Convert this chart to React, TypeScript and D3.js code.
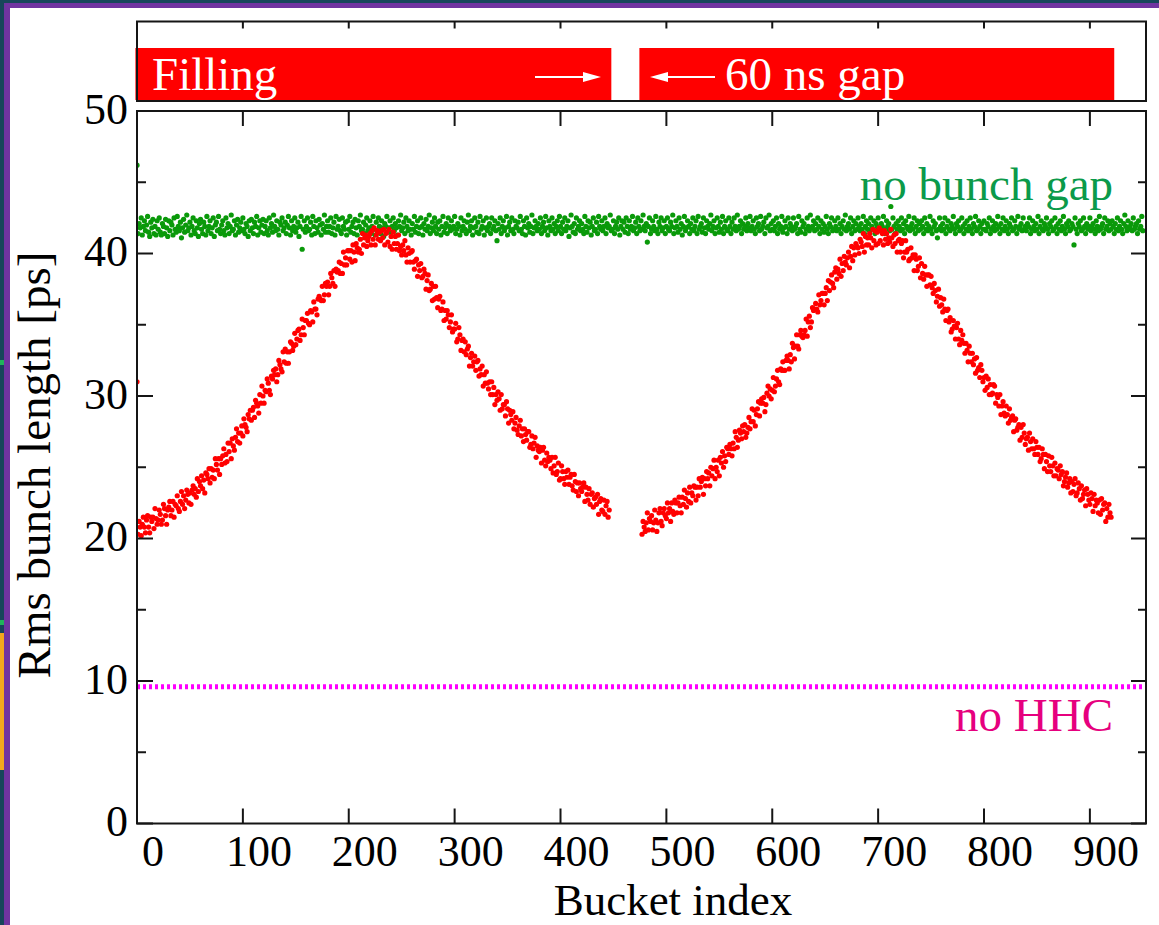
import React from 'react';
import * as d3 from 'd3';

// ---------------- data ----------------
const xTickValues = [0, 100, 200, 300, 400, 500, 600, 700, 800, 900];
const yMajorValues = [0, 10, 20, 30, 40, 50];
const yMinorValues = [5, 15, 25, 35, 45];
const noHhcLevel = 9.6;
const fillingSegments: [number, number][] = [[-1.5, 448], [474.5, 923]];

const greenStartBucket = 0;
const greenNoGap = [
  46.2, 41.4, 42.1, 41.8, 42.5, 41.3, 41.9, 42.3, 41.6, 42.0, 42.6, 41.5, 41.2, 42.2, 41.8, 42.4, 41.4, 41.9, 41.3, 42.3,
  41.7, 42.5, 41.5, 41.3, 42.1, 41.9, 41.4, 42.4, 41.8, 41.2, 42.3, 41.6, 42.2, 42.0, 41.3, 42.5, 41.7, 41.5, 42.6, 41.9,
  41.6, 42.2, 41.1, 41.8, 42.4, 41.5, 42.0, 42.7, 41.6, 41.8, 42.2, 41.3, 41.9, 42.5, 41.6, 41.4, 42.3, 41.8, 41.2, 42.1,
  42.4, 41.7, 41.4, 42.2, 41.9, 41.3, 42.6, 41.6, 41.9, 42.3, 41.4, 41.8, 42.5, 41.2, 42.0, 42.2, 41.6, 42.6, 41.7, 41.4,
  42.0, 42.3, 41.6, 41.3, 42.5, 41.8, 42.1, 41.4, 41.9, 42.7, 41.6, 41.7, 42.3, 41.3, 42.0, 42.4, 41.5, 41.8, 42.2, 41.6,
  42.5, 41.7, 41.4, 42.1, 41.9, 41.2, 42.3, 41.6, 42.4, 41.8, 41.4, 42.2, 41.9, 42.6, 41.3, 41.8, 42.3, 41.5, 42.0, 42.4,
  41.4, 41.9, 42.3, 41.6, 41.3, 42.5, 41.8, 42.1, 41.5, 42.7, 41.9, 41.6, 42.3, 41.7, 41.3, 42.2, 42.0, 42.5, 41.6, 41.8,
  42.2, 41.4, 42.0, 42.6, 41.8, 41.3, 42.3, 41.6, 41.9, 42.5, 41.5, 41.8, 42.2, 41.2, 41.9, 42.6, 40.3, 41.7, 42.3, 41.5,
  41.9, 42.5, 41.6, 41.7, 42.2, 41.3, 42.6, 41.9, 41.4, 42.3, 41.8, 41.5, 42.4, 42.0, 41.3, 42.1, 41.7, 42.7, 41.5, 41.9,
  42.3, 41.5, 41.9, 42.5, 41.4, 41.8, 42.2, 41.3, 42.6, 41.7, 41.9, 42.4, 41.6, 41.4, 42.5, 41.9, 41.7, 42.2, 41.3, 42.3,
  41.7, 42.6, 41.5, 41.9, 42.2, 41.4, 42.4, 41.8, 41.3, 42.3, 41.9, 42.7, 41.6, 41.7, 42.2, 41.4, 42.0, 42.5, 41.6, 41.8,
  42.3, 41.4, 41.9, 42.6, 41.7, 41.3, 42.2, 41.6, 42.5, 41.9, 41.4, 42.3, 41.8, 41.2, 42.1, 41.9, 42.6, 41.5, 41.8, 42.3,
  41.5, 41.9, 42.5, 41.6, 42.1, 41.8, 41.3, 42.3, 41.9, 42.7, 41.6, 41.8, 42.2, 41.4, 42.5, 41.9, 41.6, 42.3, 41.7, 41.3,
  42.1, 41.7, 42.6, 41.5, 41.9, 42.3, 41.4, 41.8, 42.5, 41.9, 41.3, 42.1, 41.7, 42.4, 41.6, 41.9, 42.7, 41.4, 41.8, 42.2,
  41.6, 42.5, 41.9, 41.4, 42.2, 41.7, 42.3, 41.3, 41.9, 42.6, 41.5, 41.8, 42.1, 41.4, 42.5, 41.9, 41.6, 42.3, 41.7, 41.9,
  42.6, 41.4, 41.7, 42.1, 41.9, 41.3, 42.5, 41.6, 41.9, 42.3, 41.7, 41.4, 42.2, 42.7, 41.6, 41.9, 42.3, 41.3, 41.8, 42.5,
  41.9, 41.5, 42.2, 41.4, 42.6, 41.7, 41.9, 42.3, 41.3, 41.8, 42.5, 41.6, 41.9, 42.1, 41.4, 42.5, 41.7, 41.9, 42.3, 41.6,
  40.9, 42.1, 41.7, 42.5, 41.4, 41.9, 42.3, 41.6, 41.8, 42.6, 41.3, 41.9, 42.2, 41.6, 42.5, 41.7, 41.4, 42.3, 41.9, 41.8,
  42.2, 41.6, 42.6, 41.7, 41.4, 42.3, 41.9, 41.3, 42.5, 41.8, 42.1, 41.5, 41.9, 42.7, 41.4, 41.8, 42.3, 41.9, 41.6, 42.1,
  41.7, 42.5, 41.4, 41.9, 42.2, 41.6, 42.6, 41.8, 41.3, 42.3, 41.9, 41.6, 42.5, 41.7, 42.1, 41.4, 41.9, 42.3, 41.6, 42.6,
  41.9, 41.4, 42.2, 41.7, 42.5, 41.6, 41.9, 42.3, 41.2, 41.8, 42.7, 41.9, 41.5, 42.1, 41.4, 42.5, 41.7, 41.9, 42.3, 41.6,
  42.1, 41.7, 41.4, 42.6, 41.9, 41.5, 42.3, 41.8, 42.2, 41.3, 41.9, 42.5, 41.6, 41.7, 42.2, 41.4, 42.6, 41.9, 41.7, 42.3,
  41.6, 41.9, 42.5, 41.4, 42.1, 41.8, 41.9, 42.7, 41.6, 41.7, 42.3, 41.4, 41.9, 42.2, 41.7, 42.5, 41.3, 41.9, 42.3, 41.7,
  42.2, 41.5, 42.5, 41.9, 41.4, 42.3, 41.7, 41.9, 42.6, 41.6, 41.8, 42.2, 41.4, 42.5, 41.9, 41.6, 42.3, 41.7, 42.7, 41.9,
  41.6, 42.1, 40.8, 41.9, 42.5, 41.4, 41.7, 42.3, 41.9, 41.6, 42.6, 41.7, 41.4, 42.2, 41.9, 42.5, 41.6, 41.8, 42.3, 41.4,
  41.9, 42.5, 41.7, 41.6, 42.2, 41.9, 42.7, 41.4, 41.8, 42.3, 41.9, 41.5, 42.5, 41.7, 42.1, 41.3, 41.9, 42.6, 41.6, 41.8,
  42.3, 41.9, 41.4, 42.1, 41.7, 42.5, 41.6, 41.9, 42.3, 41.4, 42.6, 41.7, 41.9, 42.1, 41.5, 42.5, 41.8, 41.4, 42.3, 41.9,
  41.7, 42.1, 42.7, 41.6, 41.9, 42.3, 41.4, 41.8, 42.5, 41.9, 41.5, 42.2, 41.7, 42.6, 41.4, 41.9, 42.3, 41.7, 41.6, 42.5,
  41.9, 41.4, 42.2, 41.7, 42.5, 41.9, 41.6, 42.7, 41.7, 41.9, 42.3, 41.4, 42.1, 41.7, 41.9, 42.5, 41.6, 42.1, 41.8, 42.6,
  41.6, 41.9, 42.3, 41.7, 41.4, 42.5, 41.9, 42.1, 41.6, 42.6, 41.7, 41.9, 42.2, 41.4, 42.5, 41.8, 41.9, 42.7, 41.6, 42.1,
  41.7, 42.3, 41.6, 41.9, 42.5, 41.4, 42.1, 41.7, 41.9, 42.6, 41.5, 41.8, 42.3, 41.9, 41.4, 42.5, 41.7, 42.1, 41.9, 41.6,
  42.5, 41.7, 41.9, 42.1, 41.4, 42.6, 41.7, 41.5, 42.3, 41.9, 42.1, 41.4, 41.7, 42.5, 41.9, 41.6, 42.7, 41.8, 41.9, 42.3,
  41.6, 42.1, 41.7, 42.5, 41.9, 41.4, 42.3, 41.7, 42.1, 41.5, 41.9, 42.6, 41.7, 41.4, 42.1, 41.9, 42.5, 41.6, 41.7, 42.3,
  41.9, 41.6, 42.5, 41.7, 42.1, 41.4, 41.9, 42.3, 41.7, 42.7, 41.6, 41.9, 42.1, 41.7, 42.5, 41.4, 41.9, 42.3, 41.6, 42.1,
  41.7, 42.5, 41.9, 41.6, 42.1, 41.7, 42.6, 41.4, 41.9, 42.3, 41.7, 42.1, 41.6, 42.5, 41.9, 41.7, 42.3, 41.4, 42.1, 41.9,
  42.5, 41.7, 41.6, 42.1, 41.9, 42.6, 41.4, 41.7, 42.3, 41.9, 42.1, 41.6, 43.3, 41.7, 42.5, 41.9, 41.4, 42.1, 41.7, 42.3,
  41.9, 41.6, 42.5, 41.7, 42.1, 41.4, 42.3, 41.9, 41.7, 42.6, 41.6, 41.9, 42.1, 41.7, 42.5, 41.4, 41.9, 42.3, 41.6, 42.1,
  41.7, 42.3, 41.9, 41.4, 42.5, 41.7, 42.1, 41.6, 41.9, 42.6, 41.7, 41.4, 42.3, 41.9, 42.1, 41.6, 41.1, 41.7, 42.5, 41.9,
  41.6, 42.1, 41.7, 42.5, 41.4, 41.9, 42.3, 41.7, 41.6, 42.1, 41.9, 42.6, 41.7, 41.4, 42.1, 41.9, 42.3, 41.6, 41.7, 42.5,
  41.9, 41.4, 42.1, 41.7, 42.3, 41.6, 41.9, 42.5, 41.7, 41.4, 42.1, 41.9, 42.6, 41.6, 41.7, 42.3, 41.9, 41.4, 42.1, 41.7,
  42.3, 41.7, 41.6, 42.1, 41.9, 42.5, 41.4, 41.7, 42.3, 41.9, 41.6, 42.1, 41.7, 42.6, 41.9, 41.4, 42.1, 41.7, 42.5, 41.6,
  41.9, 42.3, 41.7, 41.4, 42.1, 41.9, 42.5, 41.6, 41.7, 42.3, 41.9, 41.4, 42.6, 41.7, 41.9, 42.1, 41.6, 42.5, 41.7, 41.9,
  41.6, 42.1, 41.9, 42.5, 41.4, 41.7, 42.3, 41.9, 41.6, 42.1, 41.7, 42.6, 41.4, 41.9, 42.3, 41.7, 41.6, 42.1, 41.9, 42.5,
  41.7, 41.4, 42.1, 41.9, 42.3, 41.6, 41.7, 42.5, 41.9, 41.4, 42.1, 41.7, 42.3, 41.6, 41.9, 42.6, 41.7, 41.4, 42.1, 41.9,
  42.3, 41.6, 41.7, 42.1, 41.9, 40.6, 42.5, 41.7, 41.4, 42.1, 41.9, 42.3, 41.6, 41.7, 42.5, 41.9, 41.4, 42.1, 41.7, 41.9,
  42.5, 41.6, 41.9, 42.1, 41.7, 41.4, 42.3, 41.9, 41.6, 42.6, 41.7, 41.9, 42.1, 41.4, 42.5, 41.7, 41.9, 42.3, 41.6, 42.1,
  41.7, 42.3, 41.9, 41.4, 42.1, 41.7, 42.5, 41.6, 41.9, 42.3, 41.7, 41.4, 42.1, 42.7, 41.9, 41.6, 42.3, 41.7, 41.9, 42.1,
  41.6, 42.5, 41.7, 41.9, 42.1, 41.4, 42.3, 41.7, 41.9, 42.6, 41.6,
];

const redStart1 = 0;
const redTrain1 = [
  31.0, 20.3, 21.2, 20.8, 20.2, 21.0, 21.5, 20.8, 20.4, 21.3,
  21.6, 20.8, 20.4, 21.5, 21.2, 21.5, 20.7, 22.1, 21.4, 21.0,
  21.3, 22.0, 21.7, 21.0, 21.3, 22.4, 22.1, 21.6, 21.0, 22.0,
  22.2, 22.6, 21.6, 22.0, 22.6, 21.5, 22.4, 22.3, 23.0, 22.1,
  21.9, 22.6, 23.3, 22.4, 23.0, 22.1, 22.7, 23.4, 23.1, 22.5,
  23.2, 22.4, 23.4, 23.7, 23.1, 23.5, 22.9, 24.2, 23.3, 24.0,
  23.7, 24.4, 23.5, 24.1, 23.2, 24.6, 24.5, 24.2, 24.9, 23.9,
  24.9, 24.3, 24.8, 24.2, 25.6, 25.2, 24.8, 25.6, 24.5, 25.6,
  25.2, 25.8, 26.3, 25.3, 25.9, 25.4, 26.7, 26.1, 26.7, 25.6,
  27.0, 26.5, 26.2, 27.1, 27.7, 26.8, 27.4, 26.7, 27.4, 27.9,
  27.2, 28.4, 28.0, 27.8, 27.5, 28.7, 28.4, 29.0, 28.3, 29.0,
  29.2, 28.5, 29.7, 29.5, 29.3, 28.8, 30.1, 29.5, 30.7, 30.0,
  29.5, 30.4, 30.3, 31.2, 30.9, 30.4, 30.1, 31.4, 31.2, 31.8,
  31.5, 31.9, 31.0, 31.5, 32.5, 32.2, 31.9, 31.7, 33.1, 32.4,
  33.3, 32.3, 33.1, 32.3, 33.1, 33.8, 33.7, 33.2, 33.5, 34.4,
  33.6, 34.0, 34.6, 34.7, 33.9, 34.3, 35.4, 34.8, 34.3, 35.3,
  35.3, 35.8, 35.1, 35.0, 36.0, 35.9, 35.2, 36.6, 36.1, 36.1,
  35.7, 36.8, 37.0, 36.8, 36.7, 37.7, 36.7, 37.1, 37.9, 37.7,
  38.0, 37.1, 37.7, 38.6, 38.3, 37.9, 38.8, 37.7, 38.9, 38.7,
  38.8, 39.4, 38.6, 39.3, 38.6, 40.1, 39.2, 39.7, 39.2, 40.2,
  40.2, 39.6, 40.2, 39.4, 40.6, 40.1, 39.5, 40.7, 40.4, 40.1,
  40.3, 41.0, 40.0, 41.4, 40.6, 41.1, 41.3, 40.5, 40.9, 41.2,
  41.4, 40.6, 41.6, 41.0, 41.8, 40.6, 41.3, 41.6, 41.0, 41.5,
  40.9, 41.6, 41.1, 41.7, 40.6, 41.4, 41.5, 40.8, 41.7, 40.5,
  41.2, 40.3, 41.5, 40.7, 41.2, 40.3, 40.7, 41.3, 40.2, 40.5,
  39.9, 40.6, 40.2, 40.9, 39.9, 39.4, 40.4, 40.0, 39.4, 40.1,
  40.2, 39.4, 38.9, 39.5, 39.6, 38.4, 39.2, 38.8, 39.3, 38.3,
  38.4, 38.9, 38.6, 37.5, 38.1, 38.5, 37.4, 37.5, 37.9, 36.7,
  37.7, 36.8, 37.7, 36.9, 36.2, 36.8, 37.0, 36.0, 36.1, 36.6,
  35.3, 36.0, 35.4, 36.0, 35.7, 34.8, 35.2, 35.7, 34.5, 34.7,
  34.7, 35.1, 33.8, 34.0, 34.8, 34.3, 33.2, 33.9, 34.0, 33.1,
  33.8, 32.9, 33.3, 33.5, 32.1, 32.7, 33.0, 32.1, 32.4, 32.8,
  31.8, 32.4, 32.5, 31.4, 31.9, 31.5, 32.1, 30.7, 31.5, 30.9,
  31.7, 30.9, 30.5, 31.0, 30.1, 31.0, 30.1, 30.6, 29.4, 30.1,
  29.7, 30.3, 29.8, 29.0, 30.1, 29.1, 29.4, 29.4, 28.6, 29.6,
  29.1, 28.1, 29.0, 28.7, 28.3, 28.9, 27.7, 28.1, 28.5, 27.6,
  27.3, 27.9, 28.3, 27.2, 27.7, 26.8, 27.7, 27.3, 26.9, 27.5,
  27.5, 26.4, 26.6, 27.2, 26.3, 26.7, 27.1, 25.7, 26.5, 26.2,
  26.1, 26.4, 25.3, 26.2, 26.4, 25.5, 25.1, 26.0, 25.4, 25.7,
  25.5, 24.9, 25.7, 24.6, 25.1, 25.7, 24.5, 24.7, 25.3, 24.1,
  24.2, 25.1, 24.7, 24.2, 23.8, 24.7, 24.3, 24.8, 23.8, 24.3,
  24.5, 23.7, 23.4, 24.5, 24.0, 23.3, 23.9, 23.0, 23.9, 23.5,
  23.3, 23.6, 23.9, 22.6, 23.6, 23.1, 22.7, 23.5, 22.4, 23.1,
  23.2, 22.2, 22.8, 22.9, 22.4, 23.1, 21.7, 22.6, 22.8, 22.0,
  21.9, 22.7, 21.7, 22.3, 22.6, 21.5, 22.0,
];

const redStart2 = 477;
const redTrain2 = [
  20.3, 21.2, 20.8,
  20.5, 21.1, 21.8, 20.6, 21.4, 21.2, 21.6, 20.6, 21.1, 22.0,
  21.3, 20.5, 21.1, 21.8, 22.1, 21.2, 20.9, 21.8, 22.1, 21.6,
  21.4, 22.5, 21.8, 22.1, 21.2, 22.5, 21.9, 21.7, 22.7, 22.5,
  21.8, 22.5, 22.9, 22.3, 21.8, 22.9, 22.4, 23.4, 22.8, 22.2,
  23.2, 22.6, 23.6, 22.5, 23.2, 23.0, 23.7, 23.6, 22.7, 23.6,
  23.0, 24.2, 23.6, 24.0, 24.3, 23.1, 24.2, 23.7, 24.7, 24.2,
  24.6, 23.7, 25.0, 24.4, 24.9, 25.5, 24.2, 25.0, 24.7, 25.5,
  24.4, 25.7, 25.3, 26.1, 25.0, 25.8, 25.4, 26.4, 26.3, 25.9,
  26.6, 26.3, 25.8, 26.7, 26.3, 27.5, 27.1, 26.4, 26.9, 27.6,
  27.4, 27.0, 27.9, 27.5, 28.0, 27.1, 27.4, 27.8, 28.5, 27.7,
  28.2, 29.1, 28.2, 29.0, 27.9, 28.7, 29.1, 29.6, 28.6, 29.5,
  29.8, 29.5, 29.9, 28.9, 29.4, 30.2, 30.7, 30.0, 30.5, 29.8,
  30.4, 31.3, 30.3, 30.7, 31.2, 31.8, 31.0, 30.8, 31.9, 31.8,
  32.4, 31.8, 31.8, 32.5, 32.8, 32.5, 31.9, 32.9, 32.4, 33.7,
  33.4, 32.6, 33.5, 34.3, 33.5, 33.3, 34.3, 34.6, 34.2, 34.1,
  34.3, 34.6, 35.4, 34.2, 35.2, 35.6, 34.8, 35.2, 36.2, 36.0,
  36.1, 36.5, 36.1, 35.9, 37.1, 36.4, 36.7, 37.2, 37.2, 36.4,
  37.2, 37.6, 36.7, 38.1, 37.4, 38.0, 38.5, 37.9, 37.6, 38.7,
  39.0, 38.2, 38.9, 38.6, 39.6, 38.4, 39.3, 38.8, 39.8, 39.4,
  39.2, 39.7, 40.1, 39.0, 39.8, 40.5, 39.5, 40.4, 39.9, 40.7,
  40.5, 40.4, 40.0, 41.0, 40.8, 40.5, 41.4, 40.1, 41.2, 40.6,
  41.1, 40.6, 41.4, 41.1, 40.4, 41.7, 40.9, 41.6, 40.6, 41.5,
  40.7, 41.8, 40.9, 41.6, 41.4, 40.6, 41.6, 41.0, 41.4, 40.7,
  41.1, 40.8, 41.7, 41.1, 40.5, 41.3, 40.7, 41.4, 40.1, 40.9,
  41.0, 40.1, 40.7, 40.9, 39.7, 40.1, 40.9, 40.1, 40.3, 39.5,
  39.6, 40.4, 39.7, 39.9, 38.8, 39.9, 39.6, 38.8, 39.1, 39.7,
  38.3, 39.3, 38.6, 38.2, 39.1, 38.5, 37.7, 38.5, 38.5, 37.8,
  38.4, 37.6, 37.2, 37.9, 37.4, 36.6, 37.0, 37.5, 36.3, 36.9,
  36.4, 35.9, 36.8, 36.1, 35.3, 36.0, 36.1, 35.2, 35.5, 34.5,
  34.7, 35.3, 34.9, 34.0, 34.8, 35.1, 34.0, 33.6, 34.6, 33.9,
  34.3, 33.7, 33.0, 33.7, 33.2, 32.4, 33.5, 33.0, 32.4, 33.0,
  32.2, 32.6, 31.6, 32.7, 31.8, 32.0, 31.3, 32.2, 31.8, 31.0,
  31.3, 30.4, 31.4, 30.6, 31.2, 30.1, 30.8, 30.1, 30.2, 30.8,
  30.7, 29.5, 30.1, 29.9, 29.3, 30.1, 28.7, 29.3, 29.6, 28.8,
  28.6, 29.3, 28.7, 28.1, 29.1, 28.3, 28.5, 28.6, 27.5, 28.3,
  28.4, 27.6, 27.8, 28.0, 26.9, 27.8, 27.1, 28.0, 27.4, 26.6,
  27.0, 27.1, 26.2, 27.4, 26.8, 26.3, 27.0, 26.3, 25.9, 26.8,
  26.4, 25.9, 26.4, 25.4, 25.6, 26.3, 25.9, 24.9, 25.9, 25.4,
  24.7, 25.8, 25.1, 24.7, 25.7, 25.1, 24.4, 25.3, 24.4, 24.9,
  24.8, 24.2, 25.1, 24.5, 24.7, 23.7, 24.0, 24.3, 24.6, 23.6,
  23.9, 24.2, 23.2, 24.0, 23.3, 23.8, 24.2, 23.0, 23.2, 23.9,
  23.5, 22.7, 23.7, 22.8, 23.1, 23.4, 22.3, 23.5, 23.1, 22.7,
  22.4, 23.2, 22.8, 21.9, 23.1, 22.3, 22.7, 22.5, 21.8, 22.7,
  21.7, 22.8, 22.0, 22.4, 22.5, 21.2, 22.1, 21.5, 22.4, 21.8,
  21.5,
];

// ---------------- layout ----------------
const W = 1159;
const H = 925;
const M = { left: 137, right: 1146, top: 111, bottom: 823.5 };
const P = { top: 21.5, bottom: 101, barTop: 48, barBottom: 100 };
const FONT = "'Liberation Serif', 'Times New Roman', Times, serif";
const INK = '#151515';

export default function App() {
  const x = d3.scaleLinear().domain([0, 953]).range([M.left, M.right]);
  const y = d3.scaleLinear().domain([0, 50]).range([M.bottom, M.top]);

  const greenPts = greenNoGap.map((v, i) => [x(greenStartBucket + i), y(v)]);
  const redPts = [
    ...redTrain1.map((v, i) => [x(redStart1 + i), y(v)]),
    ...redTrain2.map((v, i) => [x(redStart2 + i), y(v)]),
  ];

  const arrowY = 77;
  return (
    <svg width={W} height={H} style={{ position: 'absolute', left: 0, top: 0, display: 'block' }}>
      {/* slide background strips */}
      <rect x={0} y={0} width={W} height={H} fill="#17465a" />
      <rect x={0} y={633} width={4} height={137} fill="#f2a81d" />
      <rect x={0} y={360} width={4} height={5} fill="#20b45a" />
      <rect x={0} y={620} width={4} height={5} fill="#20b45a" />
      <rect x={4} y={3} width={W - 4} height={H - 3} fill="#7034a0" />
      <rect x={10} y={8} width={W - 10} height={H - 8} fill="#ffffff" />

      <defs>
        <clipPath id="plotClip">
          <rect x={M.left} y={M.top} width={M.right - M.left} height={M.bottom - M.top} />
        </clipPath>
      </defs>

      {/* top filling panel */}
      {fillingSegments.map(([a, b], i) => (
        <rect key={i} x={x(a)} y={P.barTop} width={x(b) - x(a)} height={P.barBottom - P.barTop} fill="#ff0000" />
      ))}
      <text x={152} y={90} fontFamily={FONT} fontSize={47} fill="#ffffff">Filling</text>
      <line x1={535} x2={588} y1={arrowY} y2={arrowY} stroke="#fff" strokeWidth={2} />
      <polygon points={`${601},${arrowY} ${583},${arrowY - 5} ${583},${arrowY + 5}`} fill="#fff" />
      <line x1={663} x2={715} y1={arrowY} y2={arrowY} stroke="#fff" strokeWidth={2} />
      <polygon points={`${650},${arrowY} ${668},${arrowY - 5} ${668},${arrowY + 5}`} fill="#fff" />
      <text x={725} y={90} fontFamily={FONT} fontSize={47} fill="#ffffff">60 ns gap</text>
      <rect x={M.left} y={P.top} width={M.right - M.left} height={P.bottom - P.top} fill="none" stroke={INK} strokeWidth={2} />
      {xTickValues.filter(v => v > 0).map(v => (
        <line key={'pt' + v} x1={x(v)} x2={x(v)} y1={P.top} y2={P.top + 7} stroke={INK} strokeWidth={2} />
      ))}

      {/* main data */}
      <g clipPath="url(#plotClip)">
        <line x1={M.left} x2={M.right} y1={y(noHhcLevel)} y2={y(noHhcLevel)} stroke="#ff00ff" strokeWidth={5} strokeDasharray="3 3" />
        {greenPts.map(([cx, cy], i) => (
          <circle key={'g' + i} cx={cx} cy={cy} r={2.6} fill="#0a990a" />
        ))}
        {redPts.map(([cx, cy], i) => (
          <circle key={'r' + i} cx={cx} cy={cy} r={2.6} fill="#ff0000" />
        ))}
      </g>

      {/* frame and ticks */}
      <rect x={M.left} y={M.top} width={M.right - M.left} height={M.bottom - M.top} fill="none" stroke={INK} strokeWidth={2} />
      {yMajorValues.map(v => (
        <g key={'ym' + v}>
          <line x1={M.left} x2={M.left + 16} y1={y(v)} y2={y(v)} stroke={INK} strokeWidth={2} />
          <line x1={M.right - 15} x2={M.right} y1={y(v)} y2={y(v)} stroke={INK} strokeWidth={2} />
          <text x={128} y={y(v) + 12.5} textAnchor="end" fontFamily={FONT} fontSize={44} fill="#000">{v}</text>
        </g>
      ))}
      {yMinorValues.map(v => (
        <g key={'yn' + v}>
          <line x1={M.left} x2={M.left + 9} y1={y(v)} y2={y(v)} stroke={INK} strokeWidth={2} />
          <line x1={M.right - 8} x2={M.right} y1={y(v)} y2={y(v)} stroke={INK} strokeWidth={2} />
        </g>
      ))}
      {xTickValues.map(v => (
        <g key={'xt' + v}>
          {v > 0 && <line x1={x(v)} x2={x(v)} y1={M.bottom} y2={M.bottom - 15} stroke={INK} strokeWidth={2} />}
          {v > 0 && <line x1={x(v)} x2={x(v)} y1={M.top} y2={M.top + 15} stroke={INK} strokeWidth={2} />}
          <text x={x(v) + 16} y={865.5} textAnchor="middle" fontFamily={FONT} fontSize={44} fill="#000">{v}</text>
        </g>
      ))}

      {/* annotations */}
      <text x={1113} y={200} textAnchor="end" fontFamily={FONT} fontSize={47} fill="#0b9a4a">no bunch gap</text>
      <text x={1113} y={731} textAnchor="end" fontFamily={FONT} fontSize={47} fill="#e6007e">no HHC</text>

      {/* axis titles */}
      <text x={673} y={915.2} textAnchor="middle" fontFamily={FONT} fontSize={45} fill="#000">Bucket index</text>
      <text transform="translate(50,465) rotate(-90)" textAnchor="middle" fontFamily={FONT} fontSize={47} fill="#000">Rms bunch length [ps]</text>
    </svg>
  );
}
